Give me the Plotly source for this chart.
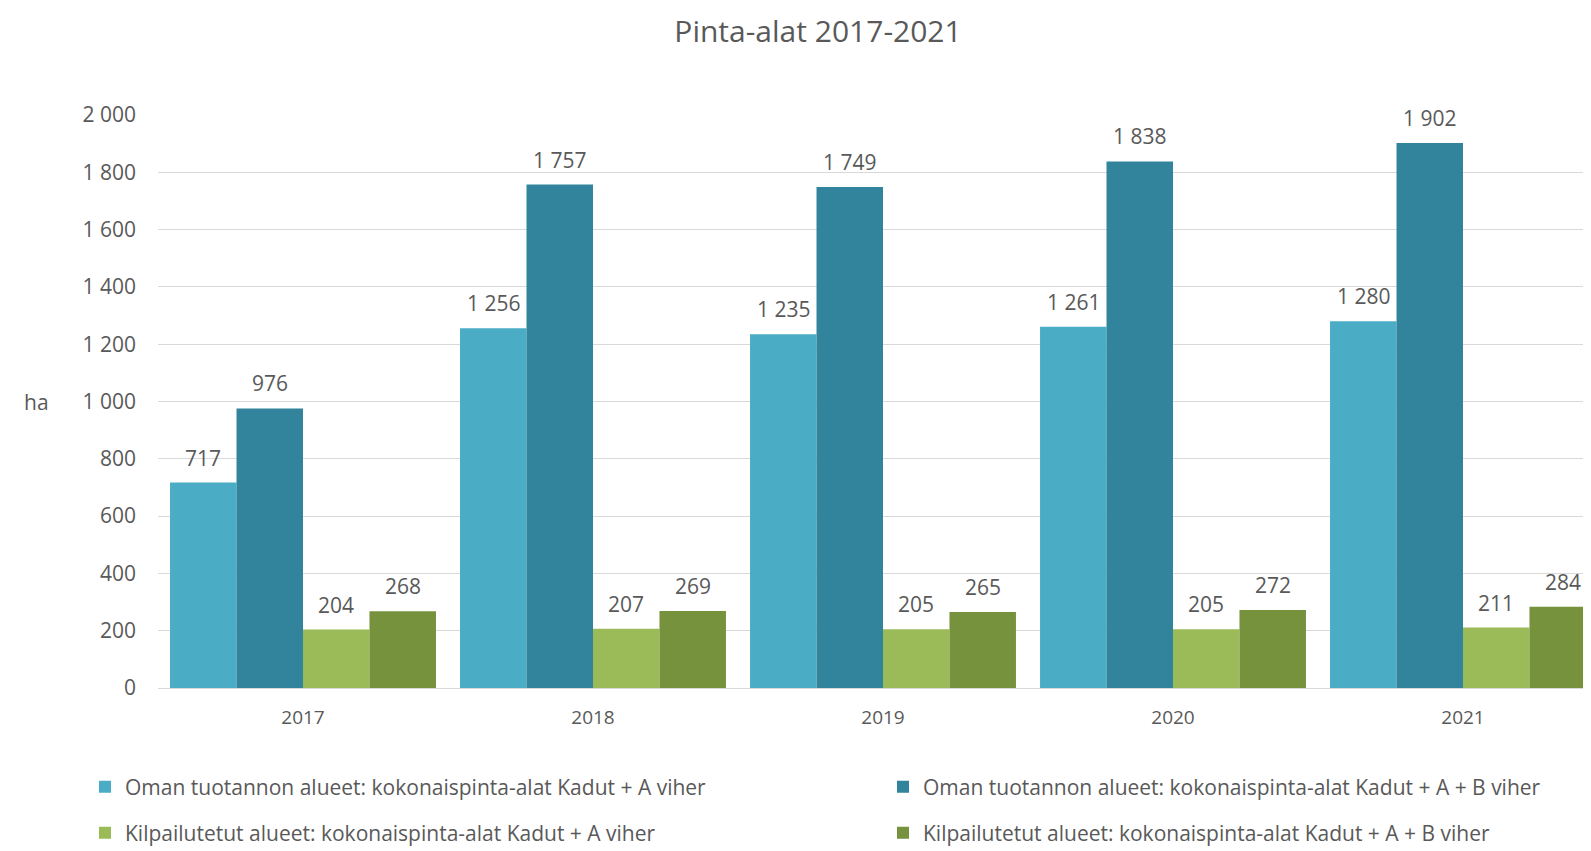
import plotly.graph_objects as go

years = ["2017", "2018", "2019", "2020", "2021"]
series_names = [
    "Oman tuotannon alueet: kokonaispinta-alat Kadut + A viher",
    "Oman tuotannon alueet: kokonaispinta-alat Kadut + A + B viher",
    "Kilpailutetut alueet: kokonaispinta-alat Kadut + A viher",
    "Kilpailutetut alueet: kokonaispinta-alat Kadut + A + B viher",
]
oma_a = [717, 1256, 1235, 1261, 1280]
oma_ab = [976, 1757, 1749, 1838, 1902]
kilp_a = [204, 207, 205, 205, 211]
kilp_ab = [268, 269, 265, 272, 284]
y_ticks = list(range(0, 2001, 200))

colors = ["#4BACC6", "#31849B", "#9BBB59", "#76923C"]
values = [oma_a, oma_ab, kilp_a, kilp_ab]
legend_ids = ["legend", "legend2", "legend3", "legend4"]

# page body has an 8px default margin, so the figure is 8px smaller than the window
W, H = 1583, 843
FONT = "Open Sans"
GREY = "#595959"
BARGAP = 0.083

fig = go.Figure()
x_idx = list(range(len(years)))
for j, (name, vals, col) in enumerate(zip(series_names, values, colors)):
    fig.add_trace(go.Bar(
        x=x_idx, y=vals, name=name, marker=dict(color=col, line=dict(width=0)),
        legend=legend_ids[j], hoverinfo="y+name",
    ))

# data labels above bars
w = (1 - BARGAP) / len(values)
for j, vals in enumerate(values):
    for i, v in enumerate(vals):
        fig.add_annotation(
            x=i + (j - (len(values) - 1) / 2) * w, y=v, xref="x", yref="y",
            text=f"{v:,}".replace(",", " "), showarrow=False,
            yanchor="bottom", yshift=9,
            font=dict(family=FONT, size=21, color=GREY),
        )

plot_left, plot_right = 150, W
plot_top, plot_bottom = 107, 680
slot = 290.0
x_max = -0.5 + (plot_right - plot_left) / slot

# axis unit label
fig.add_annotation(
    x=0, y=1000, xref="paper", yref="y", xshift=28 - plot_left, text="ha", showarrow=False,
    xanchor="center", yanchor="middle", font=dict(family=FONT, size=21, color=GREY),
)

legend_common = dict(
    orientation="h", xref="container", yref="container",
    font=dict(family=FONT, size=21, color=GREY), bgcolor="rgba(0,0,0,0)",
    yanchor="middle", xanchor="left",
)
lx = [77, 875, 77, 875]
ly = [779, 779, 825, 825]
legends = {}
for k, lid in enumerate(legend_ids):
    legends[lid] = dict(legend_common, x=lx[k] / W, y=1 - ly[k] / H)

fig.update_layout(
    width=W, height=H,
    paper_bgcolor="white", plot_bgcolor="white",
    separators=", ",
    barmode="group", bargap=BARGAP, bargroupgap=0,
    margin=dict(l=plot_left, r=W - plot_right, t=plot_top, b=H - plot_bottom, autoexpand=False),
    title=dict(text="Pinta-alat 2017-2021", x=810 / W, xref="container", xanchor="center",
               y=1 - 23 / H, yref="container", yanchor="middle",
               font=dict(family=FONT, size=30, color=GREY)),
    font=dict(family=FONT, color=GREY),
    showlegend=True,
    **legends,
)
fig.update_xaxes(
    tickmode="array", tickvals=x_idx, ticktext=years,
    range=[-0.5, x_max], showgrid=False, showline=False, zeroline=False,
    ticks="", tickfont=dict(family=FONT, size=19, color=GREY), ticklabelstandoff=16,
)
fig.update_yaxes(
    range=[0, 2000], tickmode="array", tickvals=y_ticks, tickformat=",",
    showgrid=True, gridcolor="#D9D9D9", gridwidth=1,
    zeroline=True, zerolinecolor="#D9D9D9", zerolinewidth=1,
    showline=False, ticks="", tickfont=dict(family=FONT, size=21, color=GREY),
    ticklabelstandoff=21,
)

fig.write_html("out.html")
